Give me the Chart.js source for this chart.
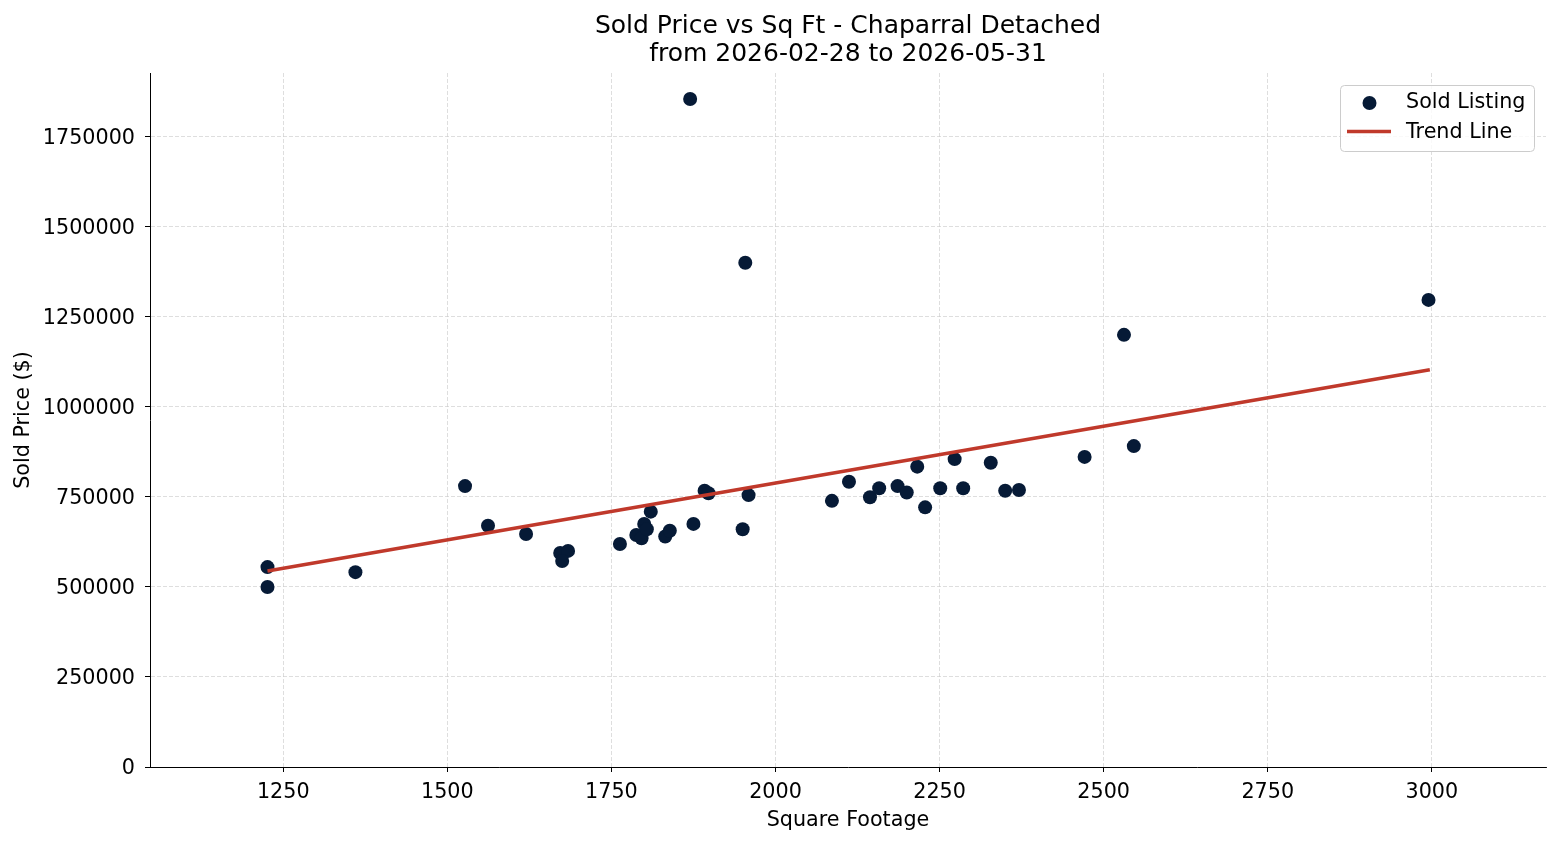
<!DOCTYPE html>
<html>
<head>
<meta charset="utf-8">
<script src="https://cdn.jsdelivr.net/npm/chart.js@4.4.1/dist/chart.umd.min.js"></script>
<style>
html,body{margin:0;padding:0;background:#fff;}
#wrap{width:1560px;height:845px;position:relative;}
</style>
</head>
<body>
<div id="wrap"><canvas id="c" width="1560" height="845"></canvas></div>
<script>
const titleLines = ["Sold Price vs Sq Ft - Chaparral Detached", "from 2026-02-28 to 2026-05-31"];
const xLabel = "Square Footage";
const yLabel = "Sold Price ($)";
const seriesNames = ["Sold Listing", "Trend Line"];

const sqft = [1226, 1226, 1360, 1527, 1562, 1620, 1672, 1684, 1675, 1763, 1788, 1796, 1800, 1804, 1810, 1832, 1839, 1870, 1875, 1892, 1898, 1950, 1954, 1959, 2086, 2112, 2144, 2158, 2186, 2200, 2216, 2228, 2251, 2273, 2286, 2328, 2350, 2371, 2471, 2531, 2546, 2995];
const price = [555000, 500000, 541000, 780000, 670000, 647000, 594000, 600000, 572000, 619000, 644000, 635000, 675000, 660000, 709000, 640000, 656000, 1855000, 675000, 767000, 760000, 660000, 1400000, 755000, 739000, 792000, 749000, 774000, 780000, 762000, 834000, 721000, 774000, 855000, 774000, 845000, 767000, 769000, 861000, 1200000, 891000, 1297000];

const trendX = [1226, 2997];
const trendY = [544000, 1103000];

const xTicks = [1250, 1500, 1750, 2000, 2250, 2500, 2750, 3000];
const yTicks = [0, 250000, 500000, 750000, 1000000, 1250000, 1500000, 1750000];

const FONT = "'DejaVu Sans', sans-serif";
const pointColor = "#061a36";
const lineColor = "#c0392b";

const scatterData = sqft.map((x, i) => ({x: x, y: price[i]}));
const trendData = trendX.map((x, i) => ({x: x, y: trendY[i]}));

const overlay = {
  id: 'overlay',
  afterDraw(chart) {
    const ctx = chart.ctx;
    const ca = chart.chartArea;
    ctx.save();
    // title
    ctx.fillStyle = '#000';
    ctx.font = "25px " + FONT;
    ctx.textAlign = 'center';
    ctx.textBaseline = 'middle';
    const cx = (ca.left + ca.right) / 2;
    ctx.fillText(titleLines[0], cx, 26);
    ctx.fillText(titleLines[1], cx, 54);
    // legend
    const bx = 1340.5, by = 85.5, bw = 194, bh = 66, r = 4;
    ctx.beginPath();
    ctx.moveTo(bx + r, by);
    ctx.lineTo(bx + bw - r, by);
    ctx.quadraticCurveTo(bx + bw, by, bx + bw, by + r);
    ctx.lineTo(bx + bw, by + bh - r);
    ctx.quadraticCurveTo(bx + bw, by + bh, bx + bw - r, by + bh);
    ctx.lineTo(bx + r, by + bh);
    ctx.quadraticCurveTo(bx, by + bh, bx, by + bh - r);
    ctx.lineTo(bx, by + r);
    ctx.quadraticCurveTo(bx, by, bx + r, by);
    ctx.closePath();
    ctx.fillStyle = 'rgba(255,255,255,0.8)';
    ctx.fill();
    ctx.strokeStyle = '#cccccc';
    ctx.lineWidth = 1;
    ctx.stroke();
    ctx.beginPath();
    ctx.arc(1369.5, 103, 7, 0, Math.PI * 2);
    ctx.fillStyle = pointColor;
    ctx.fill();
    ctx.beginPath();
    ctx.moveTo(1347, 131.5);
    ctx.lineTo(1391, 131.5);
    ctx.strokeStyle = lineColor;
    ctx.lineWidth = 3.5;
    ctx.stroke();
    ctx.fillStyle = '#000';
    ctx.font = "20.7px " + FONT;
    ctx.textAlign = 'left';
    ctx.fillText(seriesNames[0], 1406, 102.5);
    ctx.fillText(seriesNames[1], 1406, 132.5);
    ctx.restore();
  }
};

const gridCommon = {
  color: 'rgba(200,200,200,0.75)',
  lineWidth: 0.8,
  tickLength: 5,
  tickColor: '#000',
  tickWidth: 1,
  tickBorderDash: [],
  drawTicks: true
};

new Chart(document.getElementById('c'), {
  type: 'scatter',
  data: {
    datasets: [
      {
        label: seriesNames[0],
        data: scatterData,
        backgroundColor: pointColor,
        borderColor: pointColor,
        pointRadius: 7,
        pointHoverRadius: 7,
        borderWidth: 0,
        order: 2
      },
      {
        type: 'line',
        label: seriesNames[1],
        data: trendData,
        borderColor: lineColor,
        backgroundColor: lineColor,
        borderWidth: 3.5,
        pointRadius: 0,
        fill: false,
        order: 1
      }
    ]
  },
  options: {
    responsive: false,
    animation: false,
    events: [],
    layout: {padding: {left: 0, right: 14, top: 73, bottom: 0}},
    plugins: {legend: {display: false}, title: {display: false}, tooltip: {enabled: false}},
    scales: {
      x: {
        type: 'linear',
        min: 1047,
        max: 3174,
        afterBuildTicks: s => { s.ticks = xTicks.map(v => ({value: v})); },
        afterFit: s => { s.height = 78; },
        ticks: {color: '#000', font: {family: FONT, size: 20.7}, padding: 8, maxRotation: 0, callback: v => String(v)},
        grid: Object.assign({}, gridCommon, {borderDash: [4, 2]}),
        border: {display: true, color: '#000', width: 1, dash: [4, 2]},
        title: {display: true, text: xLabel, color: '#000', font: {family: FONT, size: 20.7}, padding: {top: 0, bottom: 12}}
      },
      y: {
        type: 'linear',
        min: 0,
        max: 1927000,
        afterBuildTicks: s => { s.ticks = yTicks.map(v => ({value: v})); },
        afterFit: s => { s.width = 150; },
        ticks: {color: '#000', font: {family: FONT, size: 20.7}, padding: 10, labelOffset: 2, callback: v => String(v)},
        grid: gridCommon,
        border: {display: true, color: '#000', width: 1, dash: [4, 2]},
        title: {display: true, text: yLabel, color: '#000', font: {family: FONT, size: 20.7}, padding: {top: 11, bottom: 0}}
      }
    }
  },
  plugins: [overlay]
});
</script>
</body>
</html>
